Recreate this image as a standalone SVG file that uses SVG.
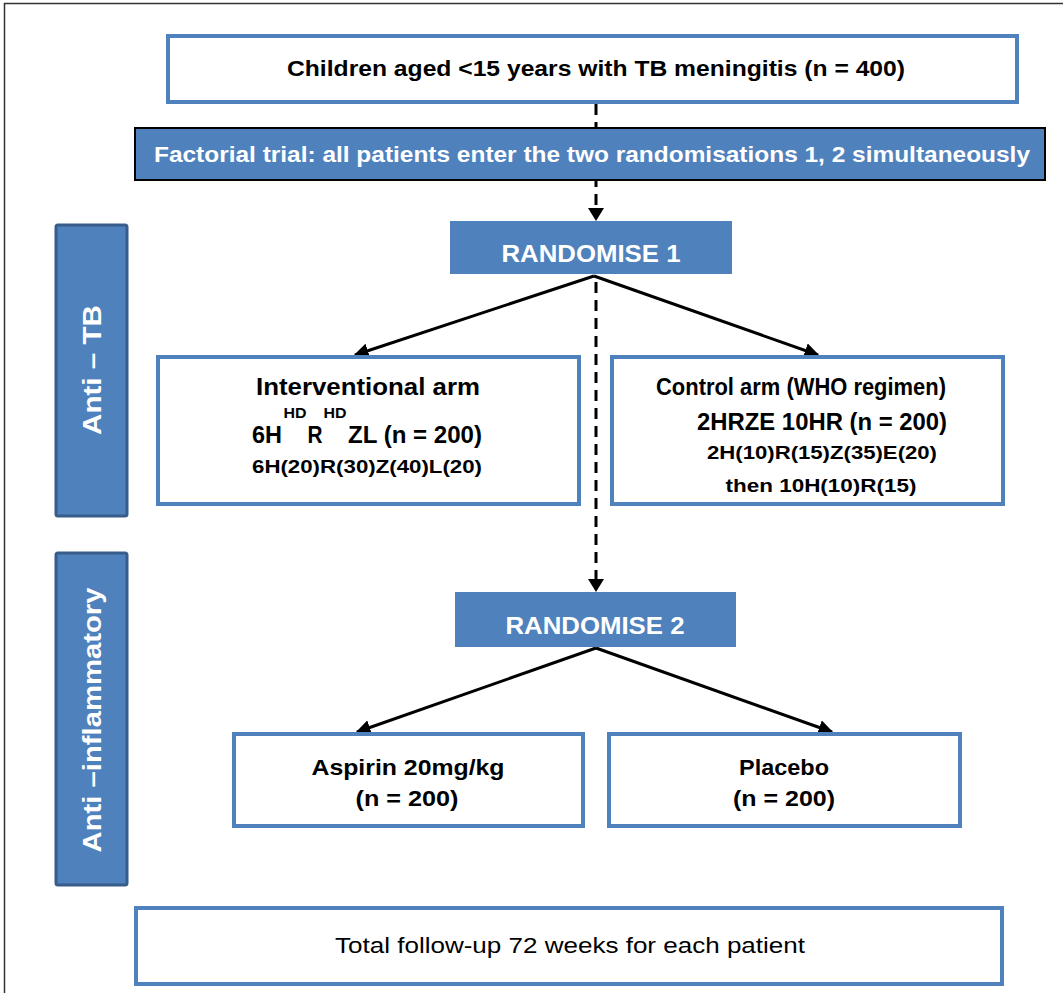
<svg xmlns="http://www.w3.org/2000/svg" width="1063" height="993" viewBox="0 0 1063 993">
<style>
.box{fill:#fff;stroke:#4F81BD;stroke-width:4}
.fill{fill:#4F81BD}
.side{fill:#4F81BD;stroke:#385D8A;stroke-width:3}
.t{font-family:"Liberation Sans",Arial,sans-serif;font-weight:bold;fill:#000;text-anchor:middle}
.w{font-family:"Liberation Sans",Arial,sans-serif;font-weight:bold;fill:#fff;text-anchor:middle}
.r{font-family:"Liberation Sans",Arial,sans-serif;fill:#000;text-anchor:middle}
.arr{stroke:#000;stroke-width:3;fill:none;marker-end:url(#ah)}
.dash{stroke:#000;stroke-width:3;fill:none;stroke-dasharray:11 7}
</style>
<defs>
<marker id="ah" viewBox="0 0 10 10" refX="9" refY="5" markerWidth="5" markerHeight="5" orient="auto" markerUnits="strokeWidth">
<path d="M0,0 L10,5 L0,10 z" fill="#000"/>
</marker>
</defs>
<rect x="4.5" y="3.5" width="1070" height="1000" fill="none" stroke="#333" stroke-width="1.5"/>

<g id="connectors">
<line class="dash" x1="596" y1="104" x2="596" y2="208"/>
<path d="M588,208 L604,208 L596,221 z" fill="#000"/>
<line class="dash" x1="596" y1="282" x2="596" y2="579"/>
<path d="M588,579 L604,579 L596,592 z" fill="#000"/>
<line class="arr" x1="594" y1="276" x2="355" y2="355"/>
<line class="arr" x1="594" y1="276" x2="818" y2="355"/>
<line class="arr" x1="596" y1="648" x2="357" y2="732"/>
<line class="arr" x1="596" y1="648" x2="832" y2="732"/>
</g>

<g id="population">
<rect class="box" x="168" y="36" width="849" height="66"/>
<text class="t" x="596" y="76" font-size="22" textLength="618" lengthAdjust="spacingAndGlyphs">Children aged &lt;15 years with TB meningitis (n = 400)</text>
</g>

<g id="factorial">
<rect class="fill" x="135" y="128" width="910" height="52" stroke="#000" stroke-width="2"/>
<text class="w" x="592" y="162" font-size="22" textLength="876" lengthAdjust="spacingAndGlyphs">Factorial trial: all patients enter the two randomisations 1, 2 simultaneously</text>
</g>

<g id="randomise1">
<rect class="fill" x="450" y="221" width="282" height="53"/>
<text class="w" x="591" y="262" font-size="23" textLength="179" lengthAdjust="spacingAndGlyphs">RANDOMISE 1</text>
</g>

<g id="antiTB">
<rect class="side" x="56" y="225" width="71" height="291" rx="2"/>
<text class="w" transform="translate(101,370) rotate(-90)" font-size="26" textLength="130" lengthAdjust="spacingAndGlyphs">Anti – TB</text>
</g>

<g id="interventional">
<rect class="box" x="158" y="357" width="421" height="147"/>
<text class="t" x="368" y="395" font-size="23" textLength="224" lengthAdjust="spacingAndGlyphs">Interventional arm</text>
<text class="t" x="267" y="443" font-size="23" textLength="30" lengthAdjust="spacingAndGlyphs">6H</text>
<text class="t" x="295" y="418" font-size="15" textLength="23" lengthAdjust="spacingAndGlyphs">HD</text>
<text class="t" x="315" y="443" font-size="23" textLength="15" lengthAdjust="spacingAndGlyphs">R</text>
<text class="t" x="335" y="418" font-size="15" textLength="23" lengthAdjust="spacingAndGlyphs">HD</text>
<text class="t" x="415" y="443" font-size="23" textLength="134" lengthAdjust="spacingAndGlyphs">ZL (n = 200)</text>
<text class="t" x="367" y="473" font-size="19" textLength="230" lengthAdjust="spacingAndGlyphs">6H(20)R(30)Z(40)L(20)</text>
</g>

<g id="control">
<rect class="box" x="612" y="357" width="391" height="147"/>
<text class="t" x="801" y="395" font-size="23" textLength="290" lengthAdjust="spacingAndGlyphs">Control arm (WHO regimen)</text>
<text class="t" x="822" y="430" font-size="23" textLength="250" lengthAdjust="spacingAndGlyphs">2HRZE 10HR (n = 200)</text>
<text class="t" x="822" y="459" font-size="19" textLength="230" lengthAdjust="spacingAndGlyphs">2H(10)R(15)Z(35)E(20)</text>
<text class="t" x="821" y="492" font-size="19" textLength="191" lengthAdjust="spacingAndGlyphs">then 10H(10)R(15)</text>
</g>

<g id="antiInflammatory">
<rect class="side" x="56" y="553" width="71" height="332" rx="2"/>
<text class="w" transform="translate(101,720) rotate(-90)" font-size="26" textLength="265" lengthAdjust="spacingAndGlyphs">Anti –inflammatory</text>
</g>

<g id="randomise2">
<rect class="fill" x="455" y="592" width="281" height="55"/>
<text class="w" x="595" y="634" font-size="23" textLength="179" lengthAdjust="spacingAndGlyphs">RANDOMISE 2</text>
</g>

<g id="aspirin">
<rect class="box" x="234" y="734" width="349" height="92"/>
<text class="t" x="408" y="775" font-size="22" textLength="193" lengthAdjust="spacingAndGlyphs">Aspirin 20mg/kg</text>
<text class="t" x="407" y="806" font-size="22" textLength="103" lengthAdjust="spacingAndGlyphs">(n = 200)</text>
</g>

<g id="placebo">
<rect class="box" x="609" y="734" width="351" height="92"/>
<text class="t" x="784" y="775" font-size="22" textLength="90" lengthAdjust="spacingAndGlyphs">Placebo</text>
<text class="t" x="784" y="806" font-size="22" textLength="102" lengthAdjust="spacingAndGlyphs">(n = 200)</text>
</g>

<g id="followup">
<rect class="box" x="136" y="908" width="866" height="76"/>
<text class="r" x="570" y="953" font-size="22" textLength="470" lengthAdjust="spacingAndGlyphs">Total follow-up 72 weeks for each patient</text>
</g>
</svg>
